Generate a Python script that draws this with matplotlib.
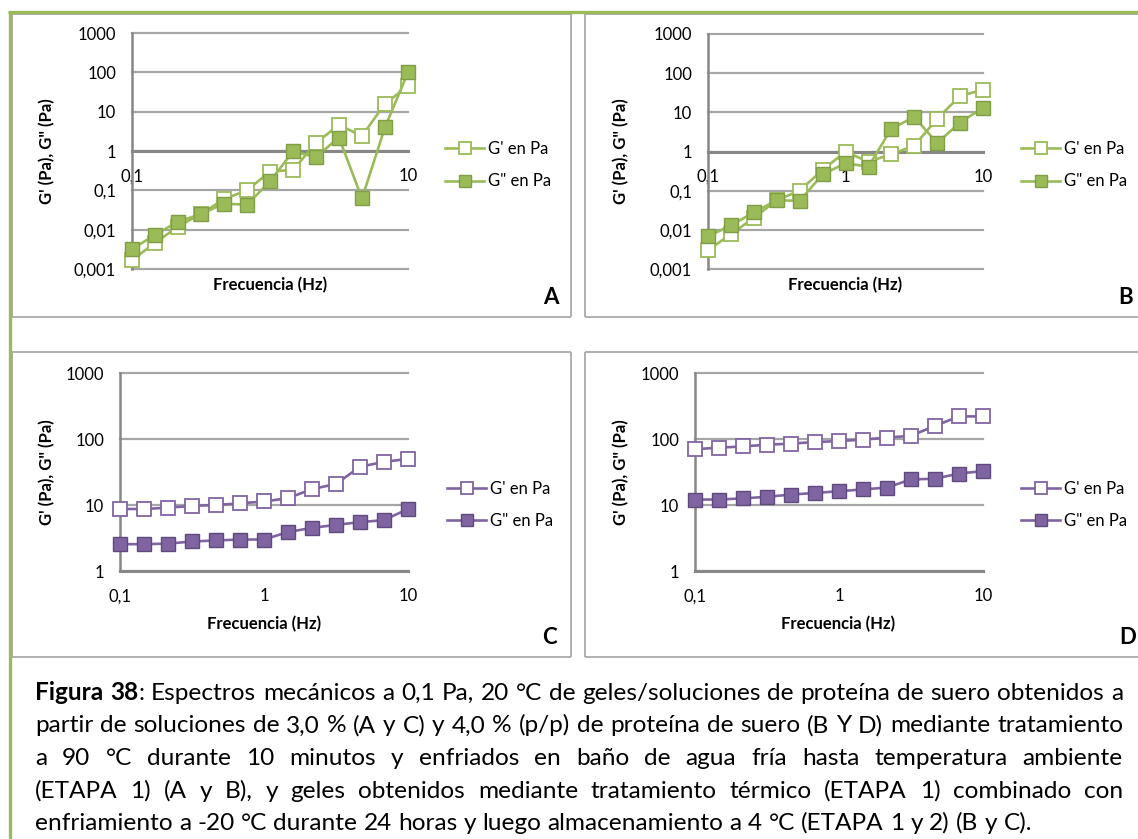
import matplotlib
matplotlib.use("Agg")
import matplotlib.pyplot as plt
import matplotlib.ticker as mticker
from matplotlib.lines import Line2D

plt.rcParams["font.family"] = ["Lato", "DejaVu Sans"]

# ---- data -------------------------------------------------------------
freq = [0.1, 0.147, 0.215, 0.316, 0.464, 0.681, 1.0, 1.47, 2.15, 3.16, 4.64, 6.81, 10.0]

a_storage = [0.0017, 0.0046, 0.012, 0.025, 0.06, 0.1, 0.3, 0.33, 1.6, 4.6, 2.4, 16, 45]
a_loss = [0.0032, 0.0074, 0.016, 0.025, 0.046, 0.043, 0.17, 0.98, 0.7, 2.2, 0.062, 4.0, 100]

b_storage = [0.003, 0.0078, 0.02, 0.057, 0.1, 0.34, 0.98, 0.55, 0.85, 1.4, 6.9, 26, 38]
b_loss = [0.0068, 0.013, 0.028, 0.057, 0.055, 0.26, 0.5, 0.41, 3.8, 7.6, 1.65, 5.5, 13]

c_storage = [8.7, 8.7, 9.1, 9.7, 10.0, 10.6, 11.3, 12.7, 17.4, 20.8, 38, 45, 50]
c_loss = [2.55, 2.55, 2.6, 2.8, 2.9, 3.0, 3.0, 3.9, 4.5, 5.0, 5.5, 5.9, 8.7]

d_storage = [70, 74, 77, 82, 85, 90, 93, 98, 105, 112, 158, 220, 220]
d_loss = [12.1, 12.1, 12.6, 13.3, 14.4, 15.2, 16.2, 17.2, 18.4, 24.4, 25, 30, 32.6]

series_labels = ["G' en Pa", 'G" en Pa']
x_ticks = [0.1, 1, 10]
x_tick_labels = ["0,1", "1", "10"]
y_ticks_wide = [0.001, 0.01, 0.1, 1, 10, 100, 1000]
y_tick_labels_wide = ["0,001", "0,01", "0,1", "1", "10", "100", "1000"]
y_ticks_narrow = [1, 10, 100, 1000]
y_tick_labels_narrow = ["1", "10", "100", "1000"]
x_title = "Frecuencia (Hz)"
y_title = 'G\' (Pa), G" (Pa)'
panel_letters = ["A", "B", "C", "D"]

caption_label = "Figura 38"
caption_lines = [
    ": Espectros mecánicos a 0,1 Pa, 20 °C de geles/soluciones de proteína de suero obtenidos a",
    "partir de soluciones de 3,0 % (A y C) y 4,0 % (p/p) de proteína de suero (B Y D) mediante tratamiento",
    "a 90 °C durante 10 minutos y enfriados en baño de agua fría hasta temperatura ambiente",
    "(ETAPA 1) (A y B), y geles obtenidos mediante tratamiento térmico (ETAPA 1) combinado con",
    "enfriamiento a -20 °C durante 24 horas y luego almacenamiento a 4 °C (ETAPA 1 y 2) (B y C).",
]

# ---- styling ----------------------------------------------------------
W, H = 1138, 839
GREEN = "#9BBB59"
GREEN_EDGE = "#7F9E45"
PURPLE = "#8064A2"
PURPLE_EDGE = "#5F4A7D"
GRID = "#A6A6A6"
AXIS = "#878787"
BOX = "#A9A9A9"
FS = 12

fig = plt.figure(figsize=(W / 100, H / 100), dpi=100)
fig.patch.set_facecolor("white")


def fxy(x, y):
    return x / W, 1 - y / H


def add_axes_px(x0, x1, y0, y1):
    return fig.add_axes([x0 / W, 1 - y1 / H, (x1 - x0) / W, (y1 - y0) / H])


def fig_line(xs, ys, color, lw):
    fig.add_artist(Line2D([x / W for x in xs], [1 - y / H for y in ys],
                          transform=fig.transFigure, color=color, lw=lw,
                          solid_capstyle="butt"))


# panel frames
for (x0, x1, y0, y1) in [(12, 571, 14, 317), (585, 1145, 14, 317),
                         (12, 571, 352, 657), (585, 1145, 352, 657)]:
    fig_line([x0, x1], [y0, y0], BOX, 1.3)
    fig_line([x0, x1], [y1, y1], BOX, 1.3)
    fig_line([x0, x0], [y0, y1], BOX, 1.3)
    fig_line([x1, x1], [y0, y1], BOX, 1.3)

# outer green frame
fig_line([8, 1138], [12, 12], GREEN, 2.4)
fig_line([9.5, 9.5], [11, 839], GREEN, 2.4)

panels = [
    dict(box=(132, 408, 33, 269), data=(a_storage, a_loss), color=GREEN, edge=GREEN_EDGE,
         ylim=(0.001, 1000), yt=(y_ticks_wide, y_tick_labels_wide), cross=1,
         ylab=(47, 151), xlab=(270, 285), leg=(445, 165), letter=(551, 297)),
    dict(box=(708, 983, 34, 269), data=(b_storage, b_loss), color=GREEN, edge=GREEN_EDGE,
         ylim=(0.001, 1000), yt=(y_ticks_wide, y_tick_labels_wide), cross=1,
         ylab=(621, 151), xlab=(845, 285), leg=(1021, 165), letter=(1126, 297)),
    dict(box=(120, 408, 373, 571), data=(c_storage, c_loss), color=PURPLE, edge=PURPLE_EDGE,
         ylim=(1, 1000), yt=(y_ticks_narrow, y_tick_labels_narrow), cross=None,
         ylab=(47, 472), xlab=(264, 624), leg=(447, 505), letter=(549, 638)),
    dict(box=(695, 983, 373, 571), data=(d_storage, d_loss), color=PURPLE, edge=PURPLE_EDGE,
         ylim=(1, 1000), yt=(y_ticks_narrow, y_tick_labels_narrow), cross=None,
         ylab=(621, 472), xlab=(838, 624), leg=(1021, 505), letter=(1128, 638)),
]

for p, letter in zip(panels, panel_letters):
    ax = add_axes_px(*p["box"])
    ax.set_facecolor("none")
    ax.set_xscale("log")
    ax.set_yscale("log")
    ax.set_xlim(0.1, 10)
    ax.set_ylim(*p["ylim"])
    ax.xaxis.set_major_locator(mticker.FixedLocator(x_ticks))
    ax.xaxis.set_major_formatter(mticker.FixedFormatter(x_tick_labels))
    ax.xaxis.set_minor_locator(mticker.NullLocator())
    ax.yaxis.set_major_locator(mticker.FixedLocator(p["yt"][0]))
    ax.yaxis.set_major_formatter(mticker.FixedFormatter(p["yt"][1]))
    ax.yaxis.set_minor_locator(mticker.NullLocator())
    ax.tick_params(length=0, labelsize=FS, colors="black")
    ax.tick_params(axis="x", pad=12.5)
    ax.tick_params(axis="y", pad=11.5)
    ax.yaxis.grid(True, color=GRID, lw=1.6)
    for gl in ax.get_ygridlines():
        gl.set_clip_on(False)
    ax.set_axisbelow(True)
    for s in ("top", "right"):
        ax.spines[s].set_visible(False)
    ax.spines["left"].set_color(AXIS)
    ax.spines["left"].set_linewidth(1.8)
    ax.spines["bottom"].set_color(AXIS)
    ax.spines["bottom"].set_linewidth(2.2)
    if p["cross"] is not None:
        ax.spines["bottom"].set_position(("data", p["cross"]))

    storage, loss = p["data"]
    ax.plot(freq, storage, color=p["color"], lw=1.9, marker="s", ms=9.5,
            mfc="white", mec=p["color"], mew=1.3, clip_on=False,
            label=series_labels[0], zorder=3)
    ax.plot(freq, loss, color=p["color"], lw=1.9, marker="s", ms=9.5,
            mfc=p["color"], mec=p["edge"], mew=1.0, clip_on=False,
            label=series_labels[1], zorder=4)

    lx, ly = p["leg"]
    leg = ax.legend(loc="center left", bbox_to_anchor=fxy(lx, ly),
                    bbox_transform=fig.transFigure, frameon=False, borderpad=0,
                    borderaxespad=0, handlelength=2.35, handletextpad=0.2,
                    labelspacing=1.0, fontsize=FS, numpoints=1, markerscale=0.85)

    fig.text(*fxy(*p["ylab"]), y_title, rotation=90, ha="center", va="center",
             fontsize=FS, fontweight="bold")
    fig.text(*fxy(*p["xlab"]), x_title, ha="center", va="center",
             fontsize=FS, fontweight="bold")
    fig.text(*fxy(*p["letter"]), letter, ha="center", va="center",
             fontsize=16, fontweight="bold")

# ---- justified caption ------------------------------------------------
cap_left, cap_right = 35, 1123
cap_first_baseline = 700
cap_step = 32.5
renderer = fig.canvas.get_renderer()


def seg_width(s, weight, size):
    t = fig.text(0, 0, s, fontsize=size, fontweight=weight)
    w = t.get_window_extent(renderer).width
    t.remove()
    return w


def caption_words(i, line):
    words = [[(w, "normal")] for w in line.split(" ")]
    if i == 0:
        lead = [[(w, "bold")] for w in caption_label.split(" ")]
        lead[-1].extend(words[0])
        words = lead + words[1:]
    return words


# pick the largest size at which every justified line still fits with
# at least a normal word space between words
base = 15.0
space_base = seg_width("a a", "normal", base) - seg_width("aa", "normal", base)
need = 0
for i, line in enumerate(caption_lines[:-1]):
    words = caption_words(i, line)
    natural = sum(seg_width(s, wt, base) for word in words for s, wt in word)
    natural += space_base * (len(words) - 1)
    need = max(need, natural)
CAP_FS = base * (cap_right - cap_left) / need * 0.995

for i, line in enumerate(caption_lines):
    words = caption_words(i, line)
    baseline = cap_first_baseline + i * cap_step
    widths = [[seg_width(s, wt, CAP_FS) for s, wt in word] for word in words]
    total = sum(sum(ws) for ws in widths)
    if i == len(caption_lines) - 1:
        gap = seg_width("a a", "normal", CAP_FS) - seg_width("aa", "normal", CAP_FS)
    else:
        gap = (cap_right - cap_left - total) / (len(words) - 1)
    x = cap_left
    for word, ws in zip(words, widths):
        for (s, wt), w in zip(word, ws):
            fig.text(*fxy(x, baseline), s, fontsize=CAP_FS, fontweight=wt,
                     ha="left", va="baseline", color="black")
            x += w
        x += gap

fig.savefig("out.png", dpi=100, facecolor="white")
